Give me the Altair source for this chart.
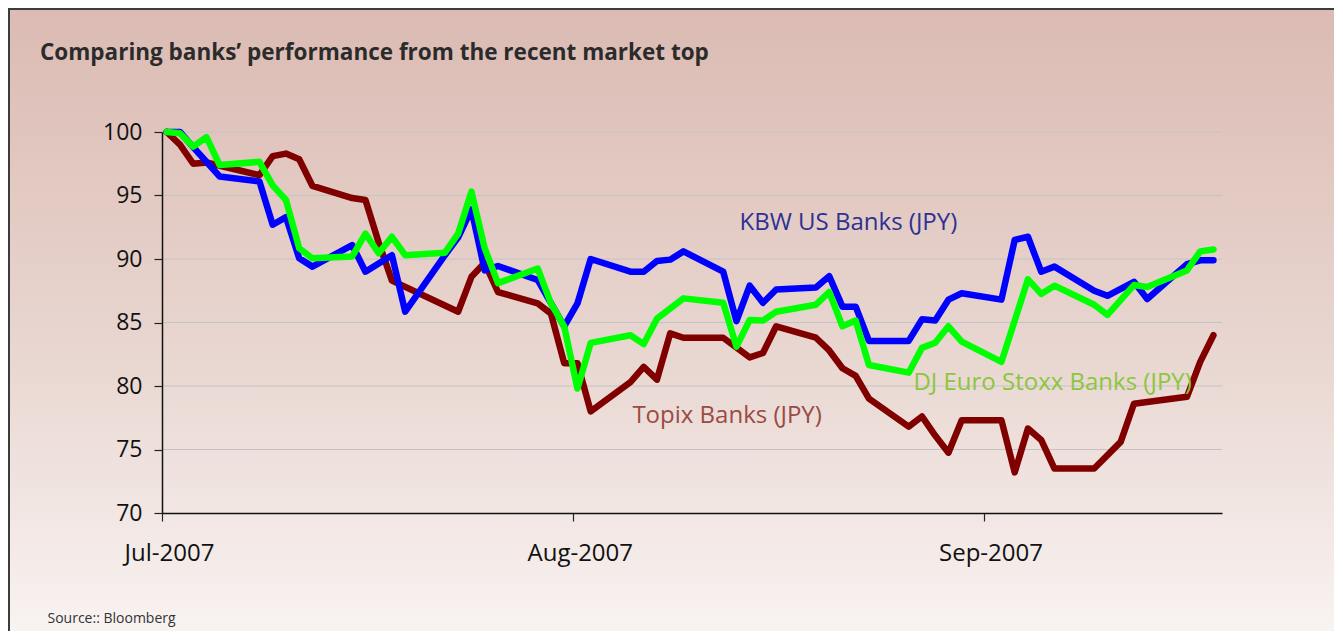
import altair as alt
import pandas as pd

TITLE = "Comparing banks’ performance from the recent market top"
SOURCE = "Source::  Bloomberg"

SERIES = ["Topix Banks (JPY)", "KBW US Banks (JPY)", "DJ Euro Stoxx Banks (JPY)"]
LINE_COLORS = ["#800000", "#0000ff", "#00ff00"]
LABEL_COLORS = ["#9a4b45", "#2e3192", "#8cc63f"]

topix_dates = ["2007-07-02", "2007-07-03", "2007-07-04", "2007-07-05", "2007-07-09", "2007-07-10",
               "2007-07-11", "2007-07-12", "2007-07-13", "2007-07-16", "2007-07-17", "2007-07-18",
               "2007-07-19", "2007-07-24", "2007-07-25", "2007-07-26", "2007-07-27", "2007-07-30",
               "2007-07-31", "2007-08-01", "2007-08-02", "2007-08-03", "2007-08-06", "2007-08-07",
               "2007-08-08", "2007-08-09", "2007-08-10", "2007-08-13", "2007-08-15", "2007-08-16",
               "2007-08-17", "2007-08-20", "2007-08-21", "2007-08-22", "2007-08-23", "2007-08-24",
               "2007-08-27", "2007-08-28", "2007-08-29", "2007-08-30", "2007-08-31", "2007-09-03",
               "2007-09-04", "2007-09-05", "2007-09-06", "2007-09-07", "2007-09-10", "2007-09-12",
               "2007-09-13", "2007-09-17", "2007-09-18", "2007-09-19"]
topix_values = [100.0, 99.0, 97.5, 97.6, 96.6, 98.1,
                98.3, 97.85, 95.75, 94.8, 94.65, 91.3,
                88.3, 85.85, 88.6, 89.7, 87.4, 86.5,
                85.7, 81.8, 81.8, 78.0, 80.3, 81.5,
                80.5, 84.15, 83.8, 83.8, 82.25, 82.6,
                84.7, 83.8, 82.8, 81.4, 80.8, 79.0,
                76.8, 77.6, 76.1, 74.75, 77.3, 77.3,
                73.2, 76.65, 75.75, 73.5, 73.5, 75.6,
                78.6, 79.15, 81.9, 84.0]

kbw_dates = ["2007-07-02", "2007-07-03", "2007-07-04", "2007-07-06", "2007-07-09", "2007-07-10",
             "2007-07-11", "2007-07-12", "2007-07-13", "2007-07-16", "2007-07-17", "2007-07-19",
             "2007-07-20", "2007-07-23", "2007-07-24", "2007-07-25", "2007-07-26", "2007-07-27",
             "2007-07-30", "2007-08-01", "2007-08-02", "2007-08-03", "2007-08-06", "2007-08-07",
             "2007-08-08", "2007-08-09", "2007-08-10", "2007-08-13", "2007-08-14", "2007-08-15",
             "2007-08-16", "2007-08-17", "2007-08-20", "2007-08-21", "2007-08-22", "2007-08-23",
             "2007-08-24", "2007-08-27", "2007-08-28", "2007-08-29", "2007-08-30", "2007-08-31",
             "2007-09-03", "2007-09-04", "2007-09-05", "2007-09-06", "2007-09-07", "2007-09-10",
             "2007-09-11", "2007-09-13", "2007-09-14", "2007-09-17", "2007-09-18", "2007-09-19"]
kbw_values = [100.0, 100.0, 98.8, 96.5, 96.1, 92.7,
              93.3, 90.05, 89.4, 91.1, 89.0, 90.3,
              85.85, 90.3, 91.7, 93.9, 89.1, 89.45,
              88.35, 84.7, 86.5, 90.0, 89.0, 89.0,
              89.85, 89.95, 90.6, 89.0, 85.1, 87.9,
              86.55, 87.6, 87.75, 88.65, 86.25, 86.25,
              83.55, 83.55, 85.25, 85.15, 86.8, 87.3,
              86.8, 91.5, 91.75, 89.0, 89.4, 87.5,
              87.1, 88.2, 86.85, 89.6, 89.9, 89.9]

dj_dates = ["2007-07-02", "2007-07-03", "2007-07-04", "2007-07-05", "2007-07-06", "2007-07-09",
            "2007-07-10", "2007-07-11", "2007-07-12", "2007-07-13", "2007-07-16", "2007-07-17",
            "2007-07-18", "2007-07-19", "2007-07-20", "2007-07-23", "2007-07-24", "2007-07-25",
            "2007-07-26", "2007-07-27", "2007-07-30", "2007-07-31", "2007-08-01", "2007-08-02",
            "2007-08-03", "2007-08-06", "2007-08-07", "2007-08-08", "2007-08-10", "2007-08-13",
            "2007-08-14", "2007-08-15", "2007-08-16", "2007-08-17", "2007-08-20", "2007-08-21",
            "2007-08-22", "2007-08-23", "2007-08-24", "2007-08-27", "2007-08-28", "2007-08-29",
            "2007-08-30", "2007-08-31", "2007-09-03", "2007-09-05", "2007-09-06", "2007-09-07",
            "2007-09-10", "2007-09-11", "2007-09-13", "2007-09-14", "2007-09-17", "2007-09-18",
            "2007-09-19"]
dj_values = [100.0, 99.9, 98.85, 99.6, 97.4, 97.65,
             95.8, 94.65, 90.85, 90.05, 90.2, 92.0,
             90.45, 91.75, 90.3, 90.5, 92.0, 95.3,
             90.85, 88.1, 89.25, 86.5, 84.7, 79.8,
             83.4, 84.0, 83.3, 85.3, 86.9, 86.55,
             83.1, 85.2, 85.15, 85.85, 86.4, 87.4,
             84.7, 85.15, 81.65, 81.05, 83.0, 83.4,
             84.7, 83.5, 81.9, 88.4, 87.25, 87.9,
             86.4, 85.6, 87.95, 87.8, 89.1, 90.6,
             90.75]

LABEL_DATES = ["2007-08-05T12:00", "2007-08-13T14:00", "2007-08-26T17:00"]
LABEL_VALUES = [77.6, 92.8, 80.2]

Y_TICKS = [70, 75, 80, 85, 90, 95, 100]
GRID_VALUES = [75, 80, 85, 90, 95, 100]
X_TICKS = [(2007, 7, 1), (2007, 8, 1), (2007, 9, 1)]
X_DOMAIN = [(2007, 7, 1), (2007, 9, 19)]

FONT = "Open Sans"
W, H = 1060, 381

# ---- build tables ----
frames = []
for name, d, v in [(SERIES[0], topix_dates, topix_values),
                   (SERIES[1], kbw_dates, kbw_values),
                   (SERIES[2], dj_dates, dj_values)]:
    f = pd.DataFrame({"date": pd.to_datetime(d) - pd.Timedelta(hours=15.5), "value": v})
    f["series"] = name
    frames.append(f)
df = pd.concat(frames, ignore_index=True)

labels = pd.DataFrame({"date": pd.to_datetime(LABEL_DATES), "value": LABEL_VALUES, "series": SERIES})
grid = pd.DataFrame({"g": GRID_VALUES})

xscale = alt.Scale(domain=[alt.DateTime(year=a, month=b, date=c) for a, b, c in X_DOMAIN])
yscale = alt.Scale(domain=[70, 100], nice=False, zero=False)

xaxis = alt.Axis(values=[alt.DateTime(year=a, month=b, date=c) for a, b, c in X_TICKS],
                 format="%b-%Y", title=SOURCE, grid=False, zindex=1, labelFlush=False,
                 labelOffset=7,
                 titleX=-115, titleY=105, titleAlign="left", titleBaseline="middle",
                 titleFontSize=14, titleFontWeight="normal", titleColor="#333333", titleFont=FONT,
                 labelFontSize=24, labelFont=FONT, labelColor="#111111", labelPadding=20,
                 tickSize=8, tickColor="#222222", domainColor="#111111", domainWidth=1.5, tickWidth=1.2)
yaxis = alt.Axis(values=Y_TICKS, title=None, grid=False, zindex=1,
                 labelFontSize=23, labelFont=FONT, labelColor="#111111", labelPadding=12,
                 tickSize=8, tickColor="#222222", domainColor="#111111", domainWidth=1.5, tickWidth=1.2)

X = alt.X("date:T", scale=xscale, axis=xaxis)
Y = alt.Y("value:Q", scale=yscale, axis=yaxis)

bg = alt.Chart(pd.DataFrame({"k": [0]})).mark_rect(
    fill=alt.Gradient(gradient="linear",
                      stops=[alt.GradientStop(color="#dbbbb3", offset=0),
                             alt.GradientStop(color="#e9d7d1", offset=0.5),
                             alt.GradientStop(color="#fdfbfb", offset=1)],
                      x1=0, x2=0, y1=0, y2=1),
    stroke="#3c3c3c", strokeWidth=2,
).encode(x=alt.value(-153), x2=alt.value(W + 200), y=alt.value(-123), y2=alt.value(H + 200))

gridlines = alt.Chart(grid).mark_rule(color="#c3c3c3", strokeWidth=1.2).encode(
    y=alt.Y("g:Q", scale=yscale, axis=yaxis), x=alt.value(0), x2=alt.value(W))

layers = [bg, gridlines]
for name, col in zip(SERIES, LINE_COLORS):
    layers.append(
        alt.Chart(df).transform_filter(alt.datum.series == name).mark_line(
            color=col, strokeWidth=6.5, strokeJoin="round", strokeCap="round"
        ).encode(x=X, y=Y)
    )
for name, col in zip(SERIES, LABEL_COLORS):
    layers.append(
        alt.Chart(labels).transform_filter(alt.datum.series == name).mark_text(
            color=col, fontSize=24, font=FONT, align="left", baseline="middle"
        ).encode(x=X, y=Y, text="series:N")
    )

chart = alt.layer(*layers).properties(
    width=W, height=H,
    title=alt.TitleParams(TITLE, anchor="start", frame="group", dx=-122, offset=0, dy=56,
                          fontSize=22.5, font=FONT, fontWeight="bold", color="#2b2b2b", zindex=1),
    autosize=alt.AutoSizeParams(type="none"),
    padding={"left": 154, "top": 124, "right": 112, "bottom": 118},
).configure_view(stroke=None)

chart.save("out.html", embed_options={"renderer": "svg", "actions": False})
